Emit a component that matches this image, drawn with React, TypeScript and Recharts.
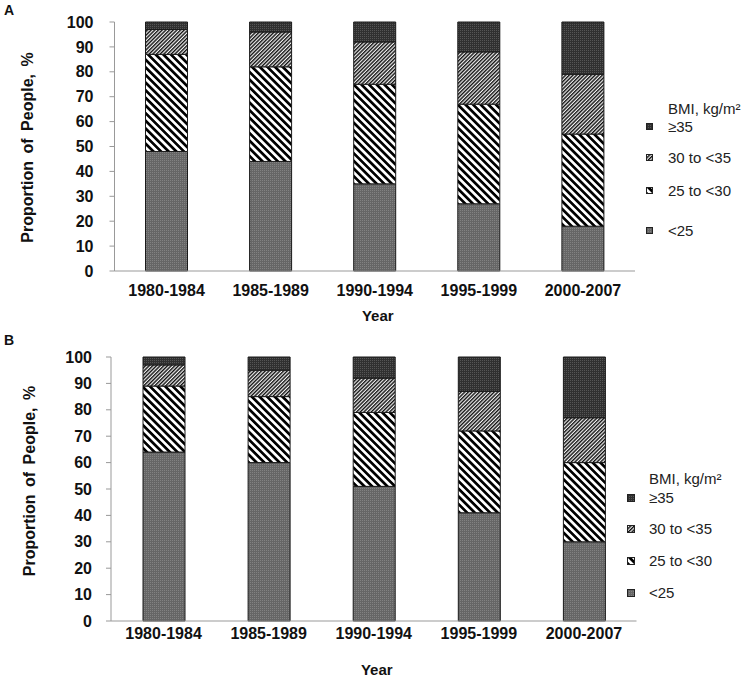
import { BarChart, Bar, XAxis, YAxis, Legend } from 'recharts'

const FONT = '"Liberation Sans", Arial, sans-serif'

const PERIODS = ['1980-1984', '1985-1989', '1990-1994', '1995-1999', '2000-2007']
const Y_TICKS = [0, 10, 20, 30, 40, 50, 60, 70, 80, 90, 100]

// panel A, % of people per BMI group
const A_UNDER_25 = [48, 44, 35, 27, 18]
const A_25_TO_30 = [39, 38, 40, 40, 37]
const A_30_TO_35 = [10, 14, 17, 21, 24]
const A_OVER_35  = [3, 4, 8, 12, 21]

// panel B
const B_UNDER_25 = [64, 60, 51, 41, 30]
const B_25_TO_30 = [25, 25, 28, 31, 30]
const B_30_TO_35 = [8, 10, 13, 15, 17]
const B_OVER_35  = [3, 5, 8, 13, 23]

const SERIES = [
  { key: 'lt25', name: '<25' },
  { key: 's25',  name: '25 to <30' },
  { key: 's30',  name: '30 to <35' },
  { key: 's35',  name: '≥35' },
]

type Row = { period: string; lt25: number; s25: number; s30: number; s35: number }

function buildRows(lt25: number[], s25: number[], s30: number[], s35: number[]): Row[] {
  return PERIODS.map((period, i) => ({ period, lt25: lt25[i], s25: s25[i], s30: s30[i], s35: s35[i] }))
}

type PanelCfg = {
  id: string
  letter: string
  data: Row[]
  top: number
  height: number
  margin: { top: number; right: number; bottom: number; left: number }
  xAxisHeight: number
  xTickMargin: number
  yTickMargin: number
  yLabelOffset: number
  yLabelDy: number
  yearOffset: number
  legendLeft: number
  legendTop: number
  rowTops: number[]
  swatchLeft: number
  swatchSize: number
  textLeft: number
}

const PANELS: PanelCfg[] = [
  {
    id: 'pa', letter: 'A',
    data: buildRows(A_UNDER_25, A_25_TO_30, A_30_TO_35, A_OVER_35),
    top: 0, height: 330,
    margin: { top: 22, right: 111, bottom: 0, left: 14.5 },
    xAxisHeight: 59, xTickMargin: 8, yTickMargin: 16,
    yLabelOffset: 12.5, yLabelDy: 1, yearOffset: 9,
    legendLeft: 640, legendTop: 95, rowTops: [5, 23, 54, 87, 127],
    swatchLeft: 6, swatchSize: 7, textLeft: 28,
  },
  {
    id: 'pb', letter: 'B',
    data: buildRows(B_UNDER_25, B_25_TO_30, B_30_TO_35, B_OVER_35),
    top: 330, height: 349,
    margin: { top: 27, right: 109.5, bottom: 0, left: 11 },
    xAxisHeight: 58, xTickMargin: 1, yTickMargin: 14,
    yLabelOffset: 18, yLabelDy: -8, yearOffset: 4,
    legendLeft: 620, legendTop: 130, rowTops: [10, 29, 60, 92, 124],
    swatchLeft: 7, swatchSize: 8, textLeft: 29,
  },
]

function patterns(id: string) {
  return (
    <defs>
      <pattern id={`${id}-lt25`} width={2} height={2} patternUnits="userSpaceOnUse">
        <rect width={2} height={2} fill="#666" />
        <rect width={1} height={1} fill="#828282" />
      </pattern>
      <pattern id={`${id}-s25`} width={5.4} height={5} patternUnits="userSpaceOnUse" patternTransform="rotate(-45)">
        <rect width={5.4} height={5} fill="#fff" />
        <rect width={2.7} height={5} fill="#000" />
      </pattern>
      <pattern id={`${id}-s30`} width={2.6} height={3} patternUnits="userSpaceOnUse" patternTransform="rotate(45)">
        <rect width={2.6} height={3} fill="#f2f2f2" />
        <rect width={1.4} height={3} fill="#111" />
      </pattern>
      <pattern id={`${id}-s35`} width={2} height={2} patternUnits="userSpaceOnUse">
        <rect width={2} height={2} fill="#303030" />
        <rect width={1} height={1} fill="#555" />
      </pattern>
    </defs>
  )
}

function legendContent(cfg: PanelCfg) {
  return () => (
    <div style={{ position: 'relative', width: 120, height: 150, fontFamily: FONT, fontSize: 15, color: '#222' }}>
      <div style={{ position: 'absolute', left: cfg.textLeft, top: cfg.rowTops[0], whiteSpace: 'nowrap' }}>
        BMI, kg/m²
      </div>
      {[...SERIES].reverse().map((s, i) => (
        <div key={s.key} style={{ position: 'absolute', left: 0, top: cfg.rowTops[i + 1], height: 17, width: 120 }}>
          <svg
            width={cfg.swatchSize} height={cfg.swatchSize}
            style={{ position: 'absolute', left: cfg.swatchLeft, top: 8.5 - cfg.swatchSize / 2 }}
          >
            <rect
              x={0.5} y={0.5} width={cfg.swatchSize - 1} height={cfg.swatchSize - 1}
              fill={`url(#${cfg.id}-${s.key})`} stroke="#222" strokeWidth={1}
            />
          </svg>
          <span style={{ position: 'absolute', left: cfg.textLeft, top: 0, whiteSpace: 'nowrap' }}>{s.name}</span>
        </div>
      ))}
    </div>
  )
}

function Panel({ cfg }: { cfg: PanelCfg }) {
  return (
    <div style={{ position: 'absolute', left: 0, top: cfg.top, width: 746, height: cfg.height }}>
      <div style={{ position: 'absolute', left: 4, top: 2, fontSize: 14, fontWeight: 700, color: '#111', zIndex: 2 }}>
        {cfg.letter}
      </div>
      <BarChart width={746} height={cfg.height} data={cfg.data} margin={cfg.margin} barSize={42}>
        {patterns(cfg.id)}
        <XAxis
          dataKey="period" interval={0} tickLine={false} height={cfg.xAxisHeight}
          axisLine={{ stroke: '#999' }} tickMargin={cfg.xTickMargin}
          tick={{ fill: '#111', fontSize: 16, fontWeight: 700 }}
          label={{
            value: 'Year', position: 'insideBottom', offset: cfg.yearOffset, dx: 3,
            style: { fill: '#111', fontSize: 15, fontWeight: 700 },
          }}
        />
        <YAxis
          type="number" domain={[0, 100]} ticks={Y_TICKS} interval={0} width={100}
          tickLine={{ stroke: '#999' }} tickSize={5} axisLine={{ stroke: '#999' }} tickMargin={cfg.yTickMargin}
          tick={{ fill: '#111', fontSize: 16, fontWeight: 700 }}
          label={{
            value: 'Proportion of People, %', angle: -90, position: 'insideLeft',
            offset: cfg.yLabelOffset, dy: cfg.yLabelDy,
            style: { textAnchor: 'middle', fill: '#111', fontSize: 16, fontWeight: 700, wordSpacing: 3 },
          }}
        />
        <Legend
          layout="vertical" align="center" verticalAlign="middle"
          content={legendContent(cfg)}
          wrapperStyle={{ left: cfg.legendLeft, top: cfg.legendTop, width: 120 }}
        />
        {SERIES.map((s) => (
          <Bar
            key={s.key} dataKey={s.key} name={s.name} stackId="bmi"
            fill={`url(#${cfg.id}-${s.key})`} stroke="#1a1a1a" strokeWidth={1}
            isAnimationActive={false}
          />
        ))}
      </BarChart>
    </div>
  )
}

export default function App() {
  return (
    <div style={{ position: 'absolute', left: 0, top: 0, width: 746, height: 679, background: '#fff', fontFamily: FONT }}>
      {PANELS.map((p) => <Panel key={p.id} cfg={p} />)}
    </div>
  )
}
